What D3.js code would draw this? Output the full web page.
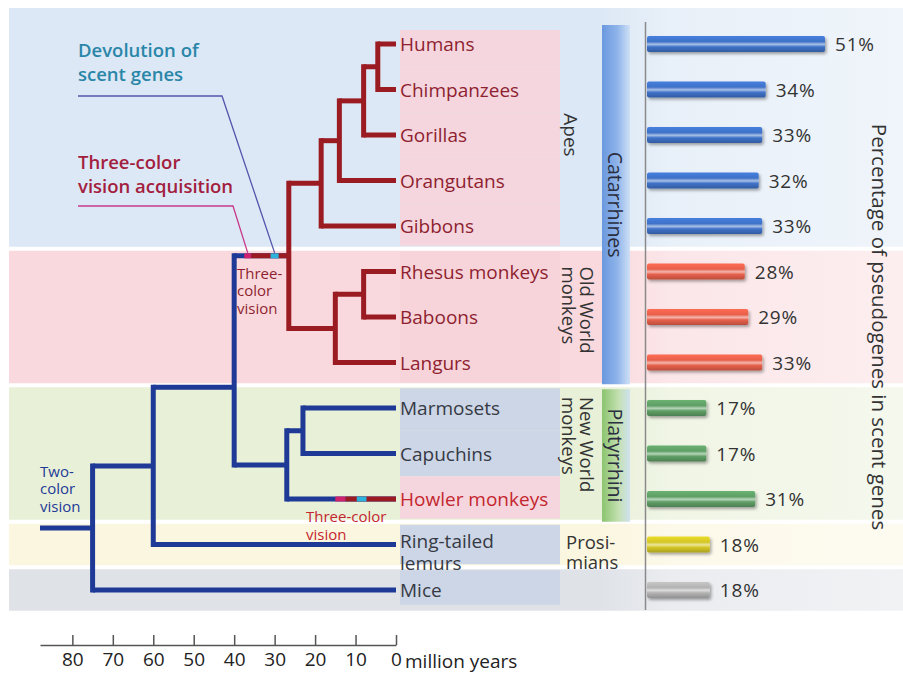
<!DOCTYPE html>
<head>
  <meta charset="utf-8">
  <script src="https://d3js.org/d3.v7.min.js"></script>
  <style>
    body { margin: 0; background: #fff; }
    svg { display: block; font-family: "Open Sans", sans-serif; }
  </style>
</head>

<body>
  <svg width="903" height="684"></svg>
  <script>
    // data
    var species = ["Humans", "Chimpanzees", "Gorillas", "Orangutans", "Gibbons",
      "Rhesus monkeys", "Baboons", "Langurs",
      "Marmosets", "Capuchins", "Howler monkeys",
      "Ring-tailed lemurs", "Mice"];
    var pseudogenePct = [51, 34, 33, 32, 33, 28, 29, 33, 17, 17, 31, 18, 18];
    var speciesGroup = ["ape", "ape", "ape", "ape", "ape",
      "oldworld", "oldworld", "oldworld",
      "newworld", "newworld", "newworld",
      "prosimian", "rodent"];
    var trichromatic = [true, true, true, true, true, true, true, true,
      false, false, true, false, false];

    // branch points of the tree, age in million years
    var branchPoints = [
      {name: "HC", children: ["Humans", "Chimpanzees"], age: 4.5},
      {name: "HCG", children: ["HC", "Gorillas"], age: 8},
      {name: "Hominids", children: ["HCG", "Orangutans"], age: 14},
      {name: "Apes", children: ["Hominids", "Gibbons"], age: 18.5},
      {name: "RB", children: ["Rhesus monkeys", "Baboons"], age: 8},
      {name: "OldWorld", children: ["RB", "Langurs"], age: 15},
      {name: "Catarrhines", children: ["Apes", "OldWorld"], age: 26.5},
      {name: "MC", children: ["Marmosets", "Capuchins"], age: 23},
      {name: "Platyrrhini", children: ["MC", "Howler monkeys"], age: 27},
      {name: "Anthropoids", children: ["Catarrhines", "Platyrrhini"], age: 40},
      {name: "Primates", children: ["Anthropoids", "Ring-tailed lemurs"], age: 60},
      {name: "Root", children: ["Primates", "Mice"], age: 75}
    ];
    var rootAge = 88;
    // events on lineages [lineage, start, end] in million years
    var trichromacyGain = [["Catarrhines", 37.5, 35.8], ["Howler monkeys", 15, 12.5]];
    var scentLoss = [["Catarrhines", 31, 29], ["Howler monkeys", 9.7, 7.3]];

    var timeTicks = [80, 70, 60, 50, 40, 30, 20, 10, 0];

    var bandNames = ["Apes", "Old World monkeys", "New World monkeys", "Prosimians", "Rodents"];
    var bandFirst = ["Humans", "Rhesus monkeys", "Marmosets", "Ring-tailed lemurs", "Mice"];
    var bandLast = ["Gibbons", "Langurs", "Howler monkeys", "Ring-tailed lemurs", "Mice"];

    // styles
    var bandColor = ["#dce8f5", "#f9d9dd", "#e8f0d8", "#fbf6df", "#dfe2e7"];
    var barColor = {ape: "#3f72c8", oldworld: "#e7604b", newworld: "#5f9f66", prosimian: "#d4c626", rodent: "#b3b3b3"};
    var red = "#9b1b22", blue = "#1e3a96", magenta = "#d0226c", cyan = "#2cb2dc";
    var labelSize = 19;

    var svg = d3.select("svg");
    var defs = svg.append("defs");

    // scales
    var x = d3.scaleLinear().domain([rootAge, 0]).range([40, 396]);
    var y = d3.scalePoint().domain(species).range([44, 590]);
    var step = y.step();
    var xPct = d3.scaleLinear().domain([0, 51]).range([647, 825]);

    // background bands
    bandNames.forEach(function(b, i) {
      var g = defs.append("linearGradient").attr("id", "band" + i);
      g.append("stop").attr("offset", "0%").attr("stop-color", bandColor[i]);
      g.append("stop").attr("offset", "66%").attr("stop-color", bandColor[i]);
      g.append("stop").attr("offset", "74%").attr("stop-color", bandColor[i]).attr("stop-opacity", 0.65);
      g.append("stop").attr("offset", "100%").attr("stop-color", bandColor[i]).attr("stop-opacity", 0.45);
    });
    function bandTop(i) { return i == 0 ? 8 : y(bandFirst[i]) - step / 2 + 2; }
    svg.append("g").selectAll("rect")
      .data(bandNames)
      .enter().append("rect")
      .attr("x", 9)
      .attr("y", function(d, i) { return bandTop(i); })
      .attr("width", 894)
      .attr("height", function(d, i) { return y(bandLast[i]) + step / 2 - 2 - bandTop(i); })
      .attr("fill", function(d, i) { return "url(#band" + i + ")"; });

    // label highlights
    function hlTop(d, i) {
      if (i == 0) return y(d) - 14;
      return y(d) - step / 2 + (bandFirst.indexOf(d) >= 0 ? 3 : 0);
    }
    svg.append("g").selectAll("rect")
      .data(species)
      .enter().append("rect")
      .attr("x", 400)
      .attr("width", 160)
      .attr("y", hlTop)
      .attr("height", function(d, i) {
        var bot = y(d) + step / 2 - (bandLast.indexOf(d) >= 0 ? (i == 12 ? 8 : 3) : 0);
        return bot - hlTop(d, i);
      })
      .attr("fill", function(d, i) {
        if (speciesGroup[i] == "oldworld") return "#f7d4da";
        return trichromatic[i] ? "#f5d6de" : "#cdd6e6";
      });

    // tree layout
    var nodes = {};
    species.forEach(function(s) { nodes[s] = {name: s, age: 0, y: y(s)}; });
    branchPoints.forEach(function(b) {
      var kids = b.children.map(function(c) { return nodes[c]; });
      var ny = d3.mean(kids, function(k) { return k.y; });
      // anthropoid split drawn on the boundary of the two bands
      if (b.name == "Anthropoids") ny = (y("Langurs") + y("Marmosets")) / 2 + 2;
      nodes[b.name] = {name: b.name, age: b.age, y: ny, kids: kids};
      kids.forEach(function(k) { k.parent = nodes[b.name]; });
    });
    function setColor(n, c) {
      n.color = c;
      (n.kids || []).forEach(function(k) { setColor(k, c); });
    }
    setColor(nodes["Root"], blue);
    setColor(nodes["Catarrhines"], red);

    var tree = svg.append("g").attr("fill", "none").attr("stroke-width", 5);

    // horizontal edges
    var edges = Object.keys(nodes).map(function(k) { return nodes[k]; })
      .filter(function(n) { return n.parent; });
    tree.selectAll("line.h")
      .data(edges)
      .enter().append("line")
      .attr("class", "h")
      .attr("x1", function(d) { return x(d.parent.age); })
      .attr("x2", function(d) { return x(d.age); })
      .attr("y1", function(d) { return d.y; })
      .attr("y2", function(d) { return d.y; })
      .attr("stroke", function(d) { return d.parent.color; });
    // red part of the lineages that became trichromatic
    trichromacyGain.forEach(function(t) {
      var n = nodes[t[0]];
      tree.append("line").attr("x1", x(t[2])).attr("x2", x(n.age))
        .attr("y1", n.y).attr("y2", n.y).attr("stroke", red);
      tree.append("line").attr("x1", x(t[1])).attr("x2", x(t[2]))
        .attr("y1", n.y).attr("y2", n.y).attr("stroke", magenta);
    });
    scentLoss.forEach(function(t) {
      var n = nodes[t[0]];
      tree.append("line").attr("x1", x(t[1])).attr("x2", x(t[2]))
        .attr("y1", n.y).attr("y2", n.y).attr("stroke", cyan);
    });
    // root stub
    tree.append("line")
      .attr("x1", x(rootAge)).attr("x2", x(nodes["Root"].age))
      .attr("y1", nodes["Root"].y).attr("y2", nodes["Root"].y)
      .attr("stroke", blue);

    // vertical connectors
    var inner = branchPoints.map(function(b) { return nodes[b.name]; });
    tree.selectAll("line.v")
      .data(inner)
      .enter().append("line")
      .attr("class", "v")
      .attr("stroke-linecap", "square")
      .attr("x1", function(d) { return x(d.age); })
      .attr("x2", function(d) { return x(d.age); })
      .attr("y1", function(d) { return d3.min(d.kids, function(k) { return k.y; }); })
      .attr("y2", function(d) { return d3.max(d.kids, function(k) { return k.y; }); })
      .attr("stroke", function(d) { return d.color; });

    // species labels
    svg.append("g").selectAll("text")
      .data(species)
      .enter().append("text")
      .attr("x", 400)
      .attr("y", function(d) { return y(d) + 7; })
      .attr("font-size", labelSize)
      .attr("fill", function(d, i) {
        if (!trichromatic[i]) return "#363a45";
        return speciesGroup[i] == "newworld" ? "#c4262e" : "#8e1f30";
      })
      .each(function(d) {
        var t = d3.select(this);
        if (d == "Ring-tailed lemurs") {
          t.append("tspan").attr("x", 400).attr("dy", -4).text("Ring-tailed");
          t.append("tspan").attr("x", 400).attr("dy", 22).text("lemurs");
        } else {
          t.text(d);
        }
      });

    // group labels (rotated, reading downwards)
    function vtext(px, py, lines, anchor, size, gap) {
      var t = svg.append("text")
        .attr("transform", "translate(" + px + "," + py + ") rotate(90)")
        .attr("text-anchor", anchor)
        .attr("font-size", size)
        .attr("fill", "#333");
      lines.forEach(function(l, i) {
        t.append("tspan").attr("x", 0).attr("y", -gap * (lines.length - 1 - i)).text(l);
      });
      return t;
    }
    vtext(564, d3.mean([y("Humans"), y("Gibbons")]), ["Apes"], "middle", 19, 0);
    vtext(562, y("Rhesus monkeys") - 5, ["Old World", "monkeys"], "start", 18.5, 18);
    vtext(562, y("Marmosets") - 11, ["New World", "monkeys"], "start", 18.5, 18);
    svg.append("text").attr("x", 566).attr("y", y("Ring-tailed lemurs") + 4)
      .attr("font-size", 18.5).attr("fill", "#333")
      .call(function(t) {
        t.append("tspan").attr("x", 566).text("Prosi-");
        t.append("tspan").attr("x", 566).attr("dy", 20).text("mians");
      });

    // suborder bars
    var gCat = defs.append("linearGradient").attr("id", "catGrad");
    gCat.append("stop").attr("offset", "0%").attr("stop-color", "#6a98df");
    gCat.append("stop").attr("offset", "55%").attr("stop-color", "#8fb4ea");
    gCat.append("stop").attr("offset", "100%").attr("stop-color", "#cfe0f6");
    var gPla = defs.append("linearGradient").attr("id", "plaGrad");
    gPla.append("stop").attr("offset", "0%").attr("stop-color", "#8cc46f");
    gPla.append("stop").attr("offset", "60%").attr("stop-color", "#c4e0b2");
    gPla.append("stop").attr("offset", "100%").attr("stop-color", "#cfe2f0");
    var catTop = y("Humans") - 19, catBot = y("Langurs") + step / 2 - 1;
    var plaTop = y("Marmosets") - step / 2 + 4, plaBot = y("Howler monkeys") + step / 2;
    svg.append("rect").attr("x", 602).attr("width", 28).attr("y", catTop).attr("height", catBot - catTop).attr("fill", "url(#catGrad)");
    svg.append("rect").attr("x", 602).attr("width", 28).attr("y", plaTop).attr("height", plaBot - plaTop).attr("fill", "url(#plaGrad)");
    vtext(608, (catTop + catBot) / 2, ["Catarrhines"], "middle", 19.5, 0).attr("fill", "#2a2e40");
    vtext(608, (plaTop + plaBot) / 2, ["Platyrrhini"], "middle", 19.5, 0).attr("fill", "#2a2e40");

    // divider
    svg.append("line").attr("x1", 645.5).attr("x2", 645.5).attr("y1", 22).attr("y2", 610)
      .attr("stroke", "#8a8a8a").attr("stroke-width", 1.5);

    // bars
    var shadow = defs.append("filter").attr("id", "shadow")
      .attr("x", "-5%").attr("y", "-40%").attr("width", "115%").attr("height", "200%");
    shadow.append("feDropShadow").attr("dx", 1.5).attr("dy", 2).attr("stdDeviation", 1.5)
      .attr("flood-color", "#000").attr("flood-opacity", 0.35);
    Object.keys(barColor).forEach(function(k) {
      var c = barColor[k];
      var g = defs.append("linearGradient").attr("id", "bar-" + k)
        .attr("x1", 0).attr("x2", 0).attr("y1", 0).attr("y2", 1);
      g.append("stop").attr("offset", "0%").attr("stop-color", d3.color(c).brighter(0.3));
      g.append("stop").attr("offset", "35%").attr("stop-color", c);
      g.append("stop").attr("offset", "52%").attr("stop-color", d3.interpolateRgb(c, "#fff")(0.55));
      g.append("stop").attr("offset", "68%").attr("stop-color", c);
      g.append("stop").attr("offset", "100%").attr("stop-color", d3.color(c).darker(0.6));
    });
    svg.append("g").selectAll("rect")
      .data(pseudogenePct)
      .enter().append("rect")
      .attr("x", xPct(0))
      .attr("y", function(d, i) { return y(species[i]) - 8; })
      .attr("width", function(d) { return xPct(d) - xPct(0); })
      .attr("height", 16)
      .attr("rx", 2)
      .attr("filter", "url(#shadow)")
      .attr("fill", function(d, i) { return "url(#bar-" + speciesGroup[i] + ")"; });
    svg.append("g").selectAll("text")
      .data(pseudogenePct)
      .enter().append("text")
      .attr("x", function(d) { return xPct(d) + 10; })
      .attr("y", function(d, i) { return y(species[i]) + 7; })
      .attr("font-size", 19)
      .attr("letter-spacing", 0.8)
      .attr("fill", "#333")
      .text(function(d) { return d + "%"; });

    vtext(872, 327, ["Percentage of pseudogenes in scent genes"], "middle", 20.5, 0);

    // annotations
    var cat = nodes["Catarrhines"];
    var ann = svg.append("g").attr("font-size", 18.5).attr("font-weight", 600);
    ann.append("text").attr("x", 78).attr("y", 57).attr("fill", "#2a86a8")
      .call(function(t) {
        t.append("tspan").attr("x", 78).text("Devolution of");
        t.append("tspan").attr("x", 78).attr("dy", 24).text("scent genes");
      });
    ann.append("polyline")
      .attr("points", [[78, 96], [222, 96], [x(d3.mean(scentLoss[0].slice(1))), cat.y - 3]].join(" "))
      .attr("fill", "none").attr("stroke", "#5355ad").attr("stroke-width", 1.3);
    ann.append("text").attr("x", 78).attr("y", 169).attr("fill", "#a2203e")
      .call(function(t) {
        t.append("tspan").attr("x", 78).text("Three-color");
        t.append("tspan").attr("x", 78).attr("dy", 24).text("vision acquisition");
      });
    ann.append("polyline")
      .attr("points", [[78, 206], [233, 206], [x(d3.mean(trichromacyGain[0].slice(1))), cat.y - 3]].join(" "))
      .attr("fill", "none").attr("stroke", "#c8388a").attr("stroke-width", 1.3);

    var narrow = "'Liberation Sans Narrow', 'Open Sans', sans-serif";
    svg.append("text").attr("x", 237).attr("y", cat.y + 23).attr("font-size", 15)
      .attr("font-family", narrow).attr("fill", "#8e1f30")
      .call(function(t) {
        t.append("tspan").attr("x", 237).text("Three-");
        t.append("tspan").attr("x", 237).attr("dy", 17.5).text("color");
        t.append("tspan").attr("x", 237).attr("dy", 17.5).text("vision");
      });
    var how = nodes["Howler monkeys"];
    svg.append("text").attr("x", 306).attr("y", how.y + 23).attr("font-size", 15)
      .attr("font-family", narrow).attr("fill", "#c4262e")
      .call(function(t) {
        t.append("tspan").attr("x", 306).text("Three-color");
        t.append("tspan").attr("x", 306).attr("dy", 17.5).text("vision");
      });
    var root = nodes["Root"];
    svg.append("text").attr("x", 40).attr("y", root.y - 51).attr("font-size", 15)
      .attr("font-family", narrow).attr("fill", blue)
      .call(function(t) {
        t.append("tspan").attr("x", 40).text("Two-");
        t.append("tspan").attr("x", 40).attr("dy", 17.5).text("color");
        t.append("tspan").attr("x", 40).attr("dy", 17.5).text("vision");
      });

    // time axis
    var axis = d3.axisBottom(x)
      .tickValues(timeTicks)
      .tickSizeInner(-10)
      .tickSizeOuter(0)
      .tickPadding(8)
      .tickFormat(d3.format("d"));
    var ag = svg.append("g")
      .attr("transform", "translate(0,645)")
      .call(axis);
    ag.select(".domain").attr("stroke", "#555").attr("stroke-width", 1.5);
    ag.selectAll(".tick line").attr("stroke", "#555").attr("stroke-width", 1.5);
    ag.selectAll(".tick text").attr("font-size", 19).attr("font-family", "'Open Sans', sans-serif").attr("fill", "#222");
    svg.append("text").attr("x", 405).attr("y", 668).attr("font-size", 19).attr("fill", "#222").text("million years");
  </script>
</body>
